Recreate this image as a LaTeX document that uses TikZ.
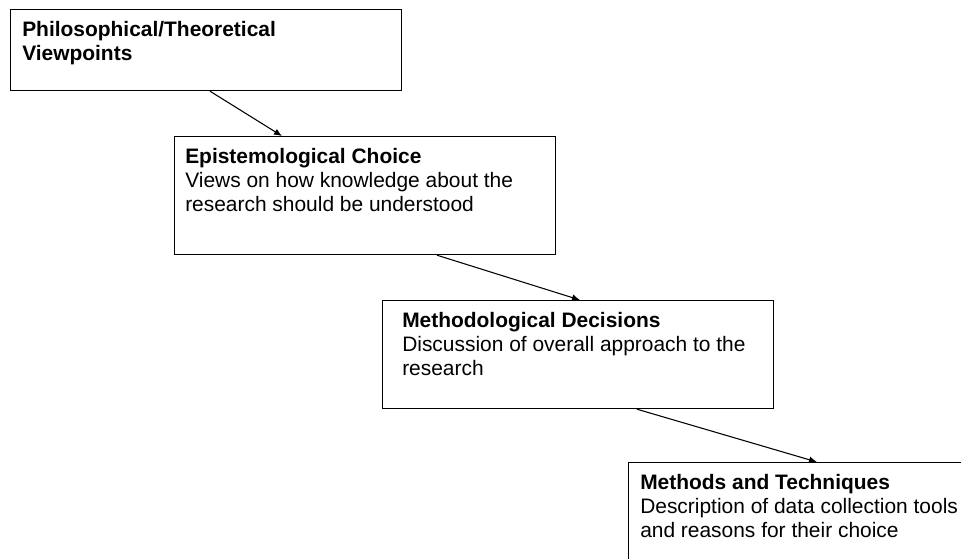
\documentclass[tikz,border=0pt]{standalone}
\usepackage{fontspec}
\setmainfont{Liberation Sans}
\usetikzlibrary{arrows.meta,positioning,calc}

\begin{document}
\begin{tikzpicture}[x=0.75pt, y=-0.75pt,
	stage/.style = {rectangle, draw, line width=0.9pt, inner sep=0pt, anchor=north west},
	stagetext/.style = {anchor=north west, inner sep=0pt, align=left, font=\fontsize{15.7}{18.2}\selectfont},
	link/.style = {-{Latex[length=6pt,width=5pt]}, line width=0.8pt}]
	\useasboundingbox (0,0) rectangle (961,558);
	% boxes
	\node[stage, minimum width=293.25pt, minimum height=60.75pt] (phil) at (10,9) {};
	\node[stage, minimum width=285.75pt, minimum height=88.5pt] (epis) at (174,136) {};
	\node[stage, minimum width=293.25pt, minimum height=81pt] (meth) at (382,300) {};
	\node[stage, minimum width=279pt, minimum height=103.5pt] (tech) at (628,462) {};
	% texts
	\node[stagetext] (philtxt) at ([xshift=9pt,yshift=-9pt]phil.north west) {\textbf{Philosophical/Theoretical}\\\textbf{Viewpoints}};
	\node[stagetext] (epistxt) at ([xshift=8.25pt,yshift=-9pt]epis.north west) {\textbf{Epistemological Choice}\\Views on how knowledge about the\\research should be understood};
	\node[stagetext] (methtxt) at ([xshift=15pt,yshift=-9pt]meth.north west) {\textbf{Methodological Decisions}\\Discussion of overall approach to the\\research};
	\node[stagetext] (techtxt) at ([xshift=9pt,yshift=-9pt]tech.north west) {\textbf{Methods and Techniques}\\Description of data collection tools\\and reasons for their choice};
	% links
	\draw[link] ([xshift=150pt]phil.south west) -- ([xshift=81pt]epis.north west);
	\draw[link] ([xshift=197.25pt]epis.south west) -- ([xshift=148.5pt]meth.north west);
	\draw[link] ([xshift=191.25pt]meth.south west) -- ([xshift=141.75pt]tech.north west);
\end{tikzpicture}
\end{document}
